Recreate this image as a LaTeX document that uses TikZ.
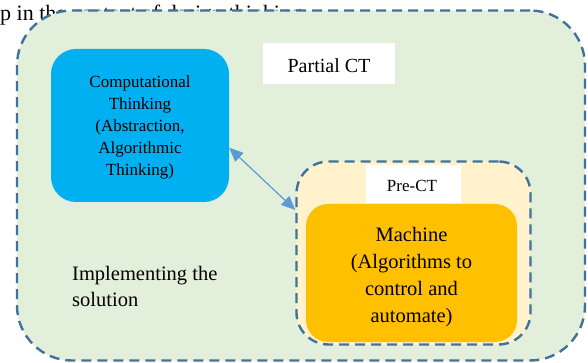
\documentclass[tikz,border=0pt]{standalone}
\usepackage{fontspec}
\setmainfont{Liberation Serif}
\usetikzlibrary{arrows.meta,calc}

\definecolor{greenbg}{HTML}{E2EFDA}
\definecolor{ctblue}{HTML}{00B0F0}
\definecolor{cream}{HTML}{FFF2CC}
\definecolor{gold}{HTML}{FFC000}
\definecolor{dashblue}{HTML}{41719C}
\definecolor{arrowblue}{HTML}{5B9BD5}

\tikzset{
  groupbox/.style={draw=dashblue, line width=2.4pt, dash pattern=on 10pt off 6pt,
    rectangle, inner sep=0pt},
  solidbox/.style={rectangle, inner sep=0pt, align=center, text=black},
  labelbox/.style={fill=white, rectangle, inner sep=0pt},
  link/.style={draw=arrowblue, line width=1.2pt,
    {Triangle[length=14pt,width=12pt]}-{Triangle[length=14pt,width=12pt]}},
}

\begin{document}
\begin{tikzpicture}[x=1pt,y=-1pt]
\useasboundingbox (0,0) rectangle (588,363);

% caption line running behind the diagram
\node[anchor=base west, inner sep=0pt, font=\fontsize{22}{26}\selectfont] (cap) at (0,21) {p in the context of design thinking};

% outer group: partial CT
\node[groupbox, fill=greenbg, rounded corners=55pt,
  minimum width=568pt, minimum height=350pt] (outer) at (301,185.5) {};
\node[labelbox, minimum width=132pt, minimum height=41pt] (pctbox) at (329,63.5) {};
\node[anchor=base, inner sep=0pt, font=\fontsize{20}{24}\selectfont] (pct) at (329,72.5) {Partial CT};

% computational thinking box
\node[solidbox, fill=ctblue, rounded corners=25pt,
  minimum width=178pt, minimum height=153pt,
  font=\fontsize{17}{21.9}\selectfont] (ct) at (140,125.5) {};
\node[solidbox, font=\fontsize{17}{21.9}\selectfont] (cttxt) at (140,127.5)
  {Computational\\Thinking\\(Abstraction,\\Algorithmic\\Thinking)};

% inner group: pre-CT
\node[groupbox, fill=cream, rounded corners=32pt,
  minimum width=234pt, minimum height=183pt] (pre) at (413.5,253) {};
\node[labelbox, minimum width=95pt, minimum height=38pt] (prebox) at (413.5,184) {};
\node[anchor=base, inner sep=0pt, font=\fontsize{17}{20}\selectfont] (prelbl) at (412,191.7) {Pre-CT};

% machine box
\node[solidbox, fill=gold, rounded corners=22pt,
  minimum width=211pt, minimum height=138pt] (mach) at (411.5,273) {};
\node[solidbox, font=\fontsize{20.5}{27}\selectfont] (machtxt) at (411.5,277)
  {Machine\\(Algorithms to\\control and\\automate)};

% free label
\node[anchor=base west, inner sep=0pt, align=left, font=\fontsize{20.5}{26.7}\selectfont] (impl) at (72,306.7)
  {Implementing the\\solution};

% two-way link
\draw[link] (ct.-14) -- (pre.160);
\end{tikzpicture}
\end{document}
